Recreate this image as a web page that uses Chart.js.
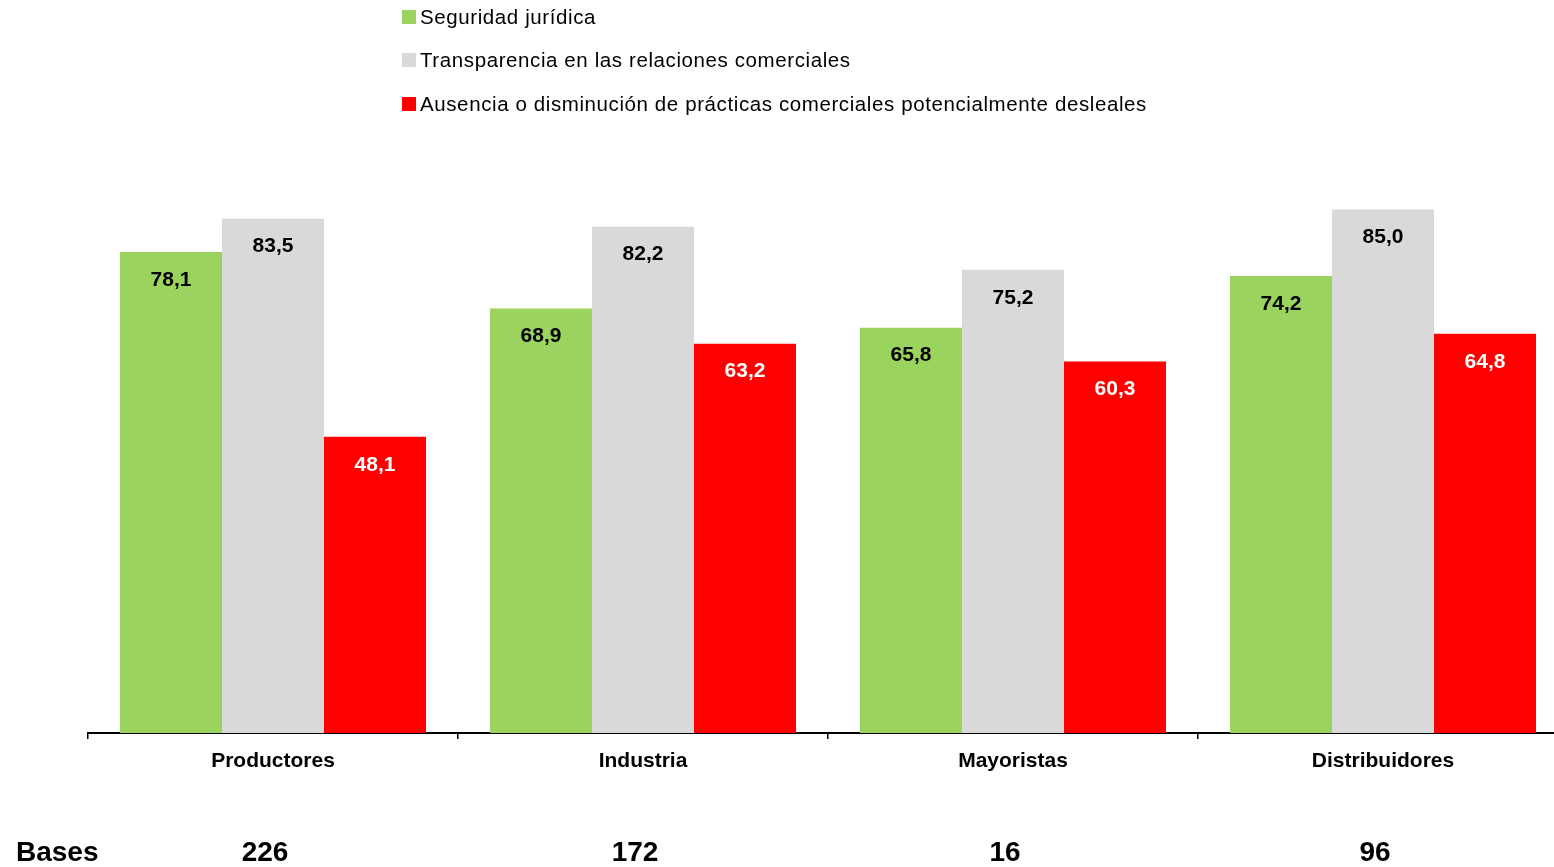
<!DOCTYPE html>
<html><head><meta charset="utf-8">
<script src="https://cdn.jsdelivr.net/npm/chart.js@4"></script>
<style>
html,body{margin:0;padding:0;background:#fff;overflow:hidden;}
#wrap{width:1554px;height:867px;overflow:hidden;position:relative;}
#box{width:1568px;height:867px;position:absolute;left:0;top:0;}
</style></head>
<body><div id="wrap"><div id="box"><canvas id="c"></canvas></div></div>
<script>
const categories = ["Productores", "Industria", "Mayoristas", "Distribuidores"];
const seriesNames = ["Seguridad jurídica", "Transparencia en las relaciones comerciales", "Ausencia o disminución de prácticas comerciales potencialmente desleales"];
const seguridad = [78.1, 68.9, 65.8, 74.2];
const transparencia = [83.5, 82.2, 75.2, 85.0];
const ausencia = [48.1, 63.2, 60.3, 64.8];
const bases = [226, 172, 16, 96];
const colors = ["#9BD35F", "#D9D9D9", "#FF0000"];
const labelColors = ["#000000", "#000000", "#FFFFFF"];
const FONT = "'Liberation Sans', Arial, sans-serif";

const overlay = {
  id: 'overlay',
  afterDatasetsDraw(chart) {
    const ctx = chart.ctx;
    ctx.save();
    // value labels
    ctx.font = "bold 21px " + FONT;
    ctx.textAlign = "center";
    ctx.textBaseline = "middle";
    chart.data.datasets.forEach((ds, di) => {
      const meta = chart.getDatasetMeta(di);
      meta.data.forEach((bar, i) => {
        ctx.fillStyle = labelColors[di];
        ctx.fillText(ds.data[i].toFixed(1).replace('.', ','), bar.x, bar.y + 28);
      });
    });
    // legend
    ctx.textAlign = "left";
    ctx.font = "20.5px " + FONT;
    if ('letterSpacing' in ctx) ctx.letterSpacing = "0.6px";
    const ys = [17, 60, 104];
    seriesNames.forEach((n, i) => {
      ctx.fillStyle = colors[i];
      ctx.fillRect(402, ys[i] - 7, 14, 14);
      ctx.fillStyle = "#000";
      ctx.fillText(n, 420, ys[i] + 1);
    });
    if ('letterSpacing' in ctx) ctx.letterSpacing = "0px";
    // bases
    const xs = chart.scales.x;
    ctx.font = "bold 28px " + FONT;
    ctx.fillStyle = "#000";
    ctx.fillText("Bases", 16, 853);
    ctx.textAlign = "center";
    bases.forEach((b, i) => {
      ctx.fillText(String(b), xs.getPixelForValue(i) - 8, 853);
    });
    ctx.restore();
  }
};

new Chart(document.getElementById('c'), {
  type: 'bar',
  data: {
    labels: categories,
    datasets: [
      { label: seriesNames[0], data: seguridad, backgroundColor: colors[0] },
      { label: seriesNames[1], data: transparencia, backgroundColor: colors[1] },
      { label: seriesNames[2], data: ausencia, backgroundColor: colors[2] }
    ]
  },
  options: {
    responsive: true,
    maintainAspectRatio: false,
    animation: false,
    layout: { padding: { top: 117, left: 88, right: 0, bottom: 0 } },
    plugins: { legend: { display: false }, tooltip: { enabled: false } },
    datasets: { bar: { categoryPercentage: 0.827, barPercentage: 1.0 } },
    scales: {
      x: {
        offset: true,
        grid: { display: true, drawOnChartArea: false, offset: true, tickLength: 6, color: '#000', lineWidth: 1.5 },
        border: { display: true, color: '#000', width: 2 },
        ticks: { color: '#000', font: { family: FONT, size: 21, weight: 'bold' }, padding: 10 },
        afterFit(scale) { scale.height = 134; }
      },
      y: { display: false, min: 0, max: 100 }
    }
  },
  plugins: [overlay]
});
</script>
</body></html>
